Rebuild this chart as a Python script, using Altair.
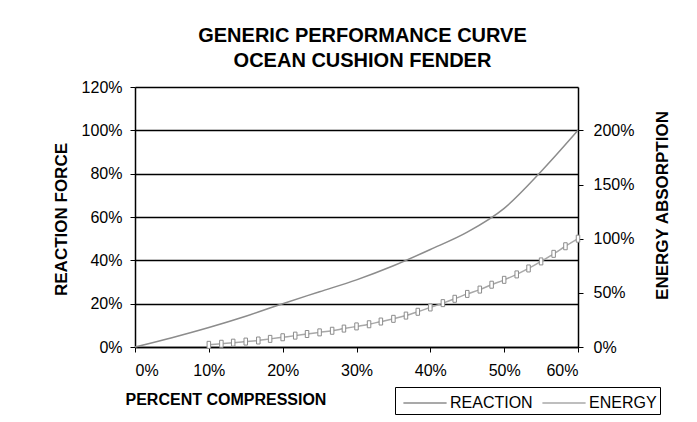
import altair as alt
import pandas as pd

# ---- data ----
compression = [0, 5, 10, 15, 20, 25, 30, 35, 40, 45, 50, 55, 60]
reaction = [0, 4.3, 9, 14.2, 20, 25.5, 31, 37.5, 45, 53, 64, 81, 100]

energy_compression = [10, 11.7, 13.3, 15, 16.7, 18.3, 20, 21.7, 23.3, 25, 26.7,
                      28.3, 30, 31.7, 33.3, 35, 36.7, 38.3, 40, 41.7, 43.3, 45,
                      46.7, 48.3, 50, 51.7, 53.3, 55, 56.7, 58.3, 60]
energy = [2, 3, 4, 5, 6, 7.5, 9, 10.5, 12, 13.5, 15, 17, 19, 21, 23.5, 26, 29,
          32.5, 36.5, 40.5, 44.5, 49, 53, 57.5, 62, 67, 72.5, 79, 86, 93, 100]

series = ["REACTION", "ENERGY"]
x_ticks = [0, 10, 20, 30, 40, 50, 60]
left_ticks = [0, 20, 40, 60, 80, 100, 120]
right_ticks = [0, 50, 100, 150, 200]

df_r = pd.DataFrame({"comp": compression, "val": reaction, "series": series[0]})
df_e = pd.DataFrame({"comp": energy_compression, "val": energy, "series": series[1]})

FONT = "Liberation Sans"
pct = "datum.value + '%'"

color = alt.Color("series:N",
                  scale=alt.Scale(domain=series, range=["#8c8c8c", "#a8a8a8"]),
                  legend=alt.Legend(title=None, orient="none", legendX=260, legendY=300,
                                    direction="horizontal",
                                    symbolType="M-1.8,0L1.8,0",
                                    symbolSize=576, symbolStrokeWidth=1.5,
                                    labelFontSize=16, labelFont=FONT, labelColor="black",
                                    labelOffset=12, columnPadding=4, padding=3,
                                    strokeColor="black", fillColor="white",
                                    symbolOffset=14))

x = alt.X("comp:Q", scale=alt.Scale(domain=[0, 60], nice=False),
          axis=alt.Axis(values=x_ticks, labelExpr=pct, grid=False, title="PERCENT COMPRESSION",
                        titleX=-10, titleY=60, titleAlign="left", titleBaseline="bottom",
                        labelPadding=10))

reaction_line = alt.Chart(df_r).mark_line(strokeWidth=1.5, interpolate="monotone").encode(
    x=x,
    y=alt.Y("val:Q", scale=alt.Scale(domain=[0, 120], nice=False),
            axis=alt.Axis(values=left_ticks, labelExpr=pct, grid=True, gridColor="black",
                          gridWidth=1.5, title="REACTION FORCE", titleX=-69, titleY=132,
                          titleAlign="center", titleBaseline="alphabetic", titleAngle=-90,
                          labelPadding=8, titleFontSize=17)),
    color=color,
)

y_e = alt.Y("val:Q", scale=alt.Scale(domain=[0, 240], nice=False),
            axis=alt.Axis(orient="right", values=right_ticks, labelExpr=pct, grid=False,
                          title="ENERGY ABSORPTION", titleX=89, titleY=118, titleAlign="center",
                          titleBaseline="alphabetic", titleAngle=-90, labelPadding=10,
                          titleFontSize=17))

energy_line = alt.Chart(df_e).mark_line(strokeWidth=1.5, interpolate="monotone").encode(
    x=x, y=y_e, color=color)
energy_pts = alt.Chart(df_e).mark_point(
    shape="M-0.5,-1L0.5,-1L0.5,1L-0.5,1Z", size=49, filled=True, fill="white",
    stroke="#8c8c8c", strokeWidth=1, opacity=1).encode(x=x, y=y_e)

energy_layer = alt.layer(energy_line, energy_pts)

chart = alt.layer(reaction_line, energy_layer).resolve_scale(y="independent").properties(
    width=443, height=260,
    background="white",
    title=alt.TitleParams(["GENERIC PERFORMANCE CURVE", "OCEAN CUSHION FENDER"],
                          anchor="middle", fontSize=20, font=FONT, fontWeight="bold",
                          lineHeight=25, offset=8, dx=6, color="black"),
    autosize=alt.AutoSizeParams(type="none"),
    padding={"left": 127, "top": 79, "right": 111, "bottom": 76},
).configure_axis(
    labelFont=FONT, labelFontSize=16, labelColor="black",
    titleFont=FONT, titleFontSize=16, titleFontWeight="bold", titleColor="black",
    domainColor="black", domainWidth=1.5, tickColor="black", tickSize=5, tickWidth=1,
).configure_view(strokeWidth=0)

chart.save("out.html", embed_options={"renderer": "svg", "actions": False})
